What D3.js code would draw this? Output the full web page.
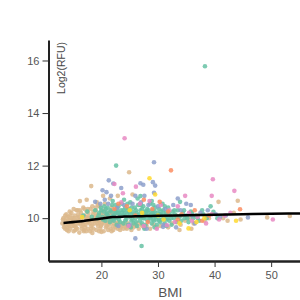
<!DOCTYPE html>
<html><head><meta charset="utf-8">
<script src="https://cdn.jsdelivr.net/npm/d3@7"></script>
<style>body{margin:0;background:#fff;}svg{display:block;font-family:"Liberation Sans",Arial,sans-serif;}</style>
</head><body><div id="chart"></div>
<script>
// ---- data ----
const xTicks = [20, 30, 40, 50];
const yTicks = [10, 12, 14, 16];
const tanPts = [[13.1,9.8],[13.3,10.0],[13.4,9.65],[13.7,9.9],[13.8,10.15],[13.9,9.55],[14.1,9.75],[14.2,10.05],[14.4,9.9],[14.5,9.6],[14.7,10.2],[14.8,9.8],[14.9,10.0],[15.1,9.5],[15.2,9.7],[15.3,10.1],[15.5,9.9],[15.6,10.3],[15.7,9.6],[15.9,9.8],[16.0,10.05],[16.1,9.45],[16.3,9.95],[16.4,10.2],[16.5,9.7],[16.7,9.85],[16.8,10.4],[16.9,9.55],[17.0,10.1],[17.2,9.75],[17.3,9.95],[17.4,10.25],[17.6,9.6],[17.7,9.85],[17.8,10.05],[18.0,9.5],[18.1,10.35],[18.2,9.7],[18.3,9.9],[18.5,10.15],[18.6,9.6],[18.7,10.0],[18.8,9.8],[19.0,10.3],[19.1,9.55],[19.2,9.95],[19.3,10.1],[19.4,9.7],[19.6,9.85],[19.7,10.45],[19.8,9.6],[19.9,10.2],[20.0,9.75],[20.1,9.95],[20.3,10.1],[20.4,9.5],[20.5,9.8],[20.6,10.3],[20.8,9.65],[20.9,9.9],[21.0,10.05],[21.2,9.55],[21.3,9.75],[21.4,10.2],[21.6,9.6],[21.7,9.9],[21.8,10.4],[22.0,9.7],[22.1,9.55],[22.3,10.0],[22.5,9.65],[22.7,9.8],[22.9,9.6],[23.1,9.75],[23.3,9.55],[23.6,9.7],[23.9,9.6],[24.2,9.75],[24.5,9.6],[24.9,9.7],[25.3,9.55],[25.7,9.65],[26.1,9.7],[26.6,9.6],[27.0,9.75],[27.5,9.65],[28.0,9.7],[28.6,9.6],[29.2,9.75],[29.8,9.65],[13.5,9.75],[13.6,10.1],[14.0,9.85],[14.3,9.7],[14.6,9.95],[15.0,9.85],[15.4,9.75],[15.8,10.0],[16.2,9.8],[16.6,10.05],[17.1,9.65],[17.5,10.0],[17.9,9.8],[18.4,9.75],[18.9,10.05],[19.5,9.9],[20.2,9.85],[20.7,10.0],[21.1,9.8],[21.5,10.1],[16.2,10.3],[17.0,10.35],[18.4,10.45],[19.4,10.5],[20.6,10.55],[15.1,10.35],[14.2,9.5],[16.9,9.5],[20.0,9.48],[16.2,10.65],[17.4,10.7],[18.2,11.22],[19.2,10.6],[20.3,10.85],[21.5,10.75],[22.9,10.85],[24.9,11.75],[25.5,10.9],[18.4,9.44],[26.8,10.5],[31,10.0],[32.5,9.8],[33.2,10.1],[34,9.75],[34.8,9.9],[35.5,10.0],[36.3,9.8],[37,10.1],[38.2,9.9],[39,10.0],[40.7,10.62],[41.5,10.0],[42.3,9.9],[43.4,10.2],[44.1,10.66],[44.6,9.95],[49.3,10.03],[53.3,10.08],[31.8,9.65],[33.8,9.55],[35.9,9.6],[30.5,9.7],[13.2,9.95],[13.9,10.0],[14.0,9.65],[14.5,10.1],[14.9,9.7],[15.2,10.0],[15.5,9.65],[15.9,10.15],[16.1,9.9],[16.5,9.6],[16.8,9.75],[17.2,10.05],[17.4,9.85],[17.7,10.2],[18.0,9.95],[18.2,9.6],[18.6,10.25],[18.8,9.9],[19.1,10.15],[19.3,9.8],[19.6,10.05],[19.9,9.7],[20.1,10.25],[20.4,9.9],[20.8,10.15],[21.0,9.7],[21.3,10.0],[21.6,9.85],[21.9,10.2],[22.2,9.8],[22.6,9.7],[23.0,9.85],[23.4,9.65],[23.8,9.8],[24.3,9.65],[24.7,9.8],[25.1,9.7],[25.6,9.75],[26.4,9.8],[27.3,9.7],[14.4,10.25],[15.8,10.3],[17.6,10.35],[19.0,10.4],[13.6,9.6],[15.4,9.55],[17.3,9.5],[19.6,9.5],[21.8,9.5]];
const tealPts = [[16.8,10.1],[17.5,10.25],[18.3,10.05],[18.9,10.3],[19.3,10.0],[19.6,10.2],[19.9,10.4],[20.2,10.05],[20.4,10.25],[20.7,9.9],[20.9,10.15],[21.1,10.4],[21.3,10.0],[21.5,9.85],[21.7,10.25],[21.9,10.5],[22.1,10.1],[22.2,9.9],[22.4,10.3],[22.6,10.0],[22.7,9.75],[22.9,10.2],[23.0,10.45],[23.2,10.05],[23.3,9.85],[23.5,10.3],[23.6,10.55],[23.8,10.1],[23.9,9.8],[24.1,10.2],[24.2,10.4],[24.4,9.95],[24.5,10.15],[24.7,9.75],[24.8,10.35],[25.0,10.05],[25.1,10.6],[25.3,9.9],[25.4,10.25],[25.6,10.1],[25.7,9.8],[25.9,10.4],[26.0,10.0],[26.2,10.2],[26.3,9.7],[26.5,10.5],[26.6,10.05],[26.8,9.9],[26.9,10.3],[27.1,8.94],[27.1,10.15],[27.2,9.8],[27.4,10.45],[27.5,10.0],[27.7,10.25],[27.8,9.75],[28.0,10.1],[28.1,10.35],[28.3,9.9],[28.4,10.2],[28.6,10.55],[28.7,10.0],[28.9,9.8],[29.0,10.3],[29.2,10.1],[29.3,9.9],[29.5,10.4],[29.6,10.05],[29.8,9.75],[29.9,10.2],[30.1,10.0],[30.2,10.35],[30.4,9.85],[30.5,10.15],[30.7,9.95],[30.9,10.3],[31.0,10.05],[31.2,9.8],[31.4,10.2],[31.6,10.0],[31.8,10.4],[32.0,9.9],[32.2,10.1],[32.4,9.75],[32.6,10.25],[32.8,10.0],[33.0,10.15],[33.3,9.85],[33.5,10.3],[33.8,10.05],[34.1,9.9],[34.4,10.2],[34.7,10.0],[35.0,10.1],[35.4,9.85],[35.8,10.25],[36.2,10.0],[36.7,10.1],[37.3,9.9],[38.0,10.15],[38.6,10.0],[39.3,10.45],[40.5,10.0],[21.0,10.2],[21.8,10.05],[22.5,10.2],[23.1,9.95],[23.7,10.2],[24.3,10.05],[24.9,10.25],[25.5,9.95],[26.1,10.3],[26.7,10.15],[27.3,10.0],[27.9,10.25],[28.5,10.05],[29.1,10.2],[29.7,9.95],[30.3,10.15],[20.5,10.45],[22.0,10.65],[24.0,10.7],[26.4,10.75],[28.9,10.65],[30.8,10.55],[25.2,9.65],[27.6,9.6],[29.4,9.65],[31.5,9.7],[38.3,15.78],[22.6,12.0],[26.9,10.84],[33.9,10.62],[39.8,10.24],[19.5,10.1],[20.0,10.3],[20.3,9.95],[20.8,10.35],[21.2,10.1],[21.6,10.3],[22.0,9.95],[22.3,10.15],[22.8,10.35],[23.1,10.2],[23.4,10.1],[23.9,10.3],[24.2,9.9],[24.6,10.3],[25.0,10.2],[25.3,10.4],[25.8,10.15],[26.1,9.85],[26.4,10.1],[26.9,10.05],[27.2,10.35],[27.6,10.15],[28.0,9.95],[28.3,10.3],[28.8,10.15],[29.1,9.95],[29.4,10.25],[29.8,10.1],[30.2,9.9],[30.6,10.25],[31.1,10.15],[31.5,9.95],[31.9,10.2],[32.3,10.0],[32.9,10.3],[33.4,10.05],[34.0,10.1],[34.6,10.3],[35.2,10.0],[36.0,10.2],[37.0,10.0],[37.8,10.3],[24.6,10.55],[27.0,10.5],[29.2,10.5],[22.5,10.5],[31.2,10.45]];
const purplePts = [[29.3,12.13],[21.3,11.44],[22.1,11.32],[23.5,11.15],[20.2,11.06],[20.9,10.99],[21.7,10.85],[18.9,10.62],[26.9,11.33],[27.4,11.27],[29.1,11.37],[29.5,11.24],[29.3,10.97],[26.0,10.85],[27.6,10.85],[33.5,10.75],[35.0,10.55],[35.8,10.5],[26.0,9.23],[30.9,9.67],[45.9,10.03],[22.8,10.4],[24.0,10.5],[25.5,10.55],[27.0,10.6],[28.3,10.5],[30.0,10.45],[31.3,10.35],[32.7,10.5],[34.0,10.3],[36.0,10.1],[37.5,10.2],[38.8,10.3],[40.2,10.15],[41.0,10.05],[42.0,10.1],[25.0,9.75],[28.0,9.6],[31.0,9.75],[33.2,9.65],[36.5,9.8],[23.0,9.7],[19.8,10.55],[20.6,10.7],[21.2,10.55]];
const pinkPts = [[24.1,13.04],[22.3,11.3],[23.8,10.95],[26.1,11.2],[34.8,10.85],[39.7,11.48],[39.5,10.85],[43.5,11.04],[50.3,9.95],[31.6,9.73],[23.5,10.6],[26.8,10.55],[28.5,10.65],[30.5,10.5],[32.0,10.3],[33.5,10.45],[35.5,10.2],[37.0,10.05],[39.5,10.15],[41.8,10.1],[42.8,10.2],[40.8,9.95],[27.5,9.7],[29.8,9.6],[33.0,9.85],[24.8,9.7],[36.0,9.9],[38.5,9.8]];
const orangePts = [[32.3,11.82],[44.5,10.34],[30.3,10.62],[27.5,10.7],[23.0,10.55],[24.5,10.45],[29.0,10.35],[31.8,10.25],[34.2,10.15],[36.5,10.3],[39.0,10.1],[26.0,10.1],[28.2,9.85],[33.5,9.95],[37.8,9.9],[22.3,10.35]];
const yellowPts = [[28.5,11.52],[29.5,10.9],[35.4,9.61],[16.6,10.04],[27.2,10.2],[31.0,9.95],[33.8,9.8],[36.8,9.85],[38.2,10.0],[43.8,9.9],[30.0,10.1],[25.0,10.3]];
const trendBmi = [13.3, 16, 18, 20, 22, 24, 26, 28, 30, 35, 40, 45, 50, 55.1];
const trendVal = [9.82, 9.87, 9.93, 9.99, 10.04, 10.06, 10.07, 10.08, 10.09, 10.11, 10.13, 10.15, 10.17, 10.18];

const groups = [
  {pts: tanPts, color: "#dcb98c"},
  {pts: tealPts, color: "#66c2a5"},
  {pts: purplePts, color: "#8da0cb"},
  {pts: pinkPts, color: "#e78ac3"},
  {pts: orangePts, color: "#fc8d62"},
  {pts: yellowPts, color: "#ffd92f"}
];

// ---- chart ----
const W = 300, H = 300;
const mL = 48.5, mR = 300, mT = 40, mB = 261;
const x = d3.scaleLinear().domain([10.65, 55.1]).range([mL, mR]);
const y = d3.scaleLinear().domain([8.37, 16.78]).range([mB, mT]);

const svg = d3.select("#chart").append("svg").attr("width", W).attr("height", H);

svg.append("defs").append("clipPath").attr("id", "c")
  .append("rect").attr("x", mL).attr("y", mT).attr("width", mR - mL).attr("height", mB - mT);

const plot = svg.append("g").attr("clip-path", "url(#c)");
groups.forEach(g => {
  plot.append("g").selectAll("circle").data(g.pts).join("circle")
    .attr("cx", d => x(d[0])).attr("cy", d => y(d[1])).attr("r", 2.3)
    .attr("fill", g.color).attr("fill-opacity", 0.85);
});

const trend = trendBmi.map((b, i) => [b, trendVal[i]]);
plot.append("path").datum(trend)
  .attr("d", d3.line().x(d => x(d[0])).y(d => y(d[1])).curve(d3.curveMonotoneX))
  .attr("fill", "none").attr("stroke", "#000").attr("stroke-width", 2.5);

// axes
const xAxis = svg.append("g").attr("transform", `translate(0,${mB})`)
  .call(d3.axisBottom(x).tickValues(xTicks).tickSize(6).tickSizeOuter(0));
const yAxis = svg.append("g").attr("transform", `translate(${mL},0)`)
  .call(d3.axisLeft(y).tickValues(yTicks).tickSize(6).tickSizeOuter(0));
[xAxis, yAxis].forEach(a => {
  a.select(".domain").attr("stroke", "#222").attr("stroke-width", 2);
  a.selectAll(".tick line").attr("stroke", "#333").attr("stroke-width", 1);
  a.selectAll(".tick text").attr("fill", "#555").attr("font-size", 11)
    .attr("font-family", "'Liberation Sans',Arial,sans-serif");
});
xAxis.select(".domain").attr("stroke-width", 2.5);
xAxis.selectAll(".tick text").attr("dy", "0.85em");

svg.append("text").attr("x", (mL + mR) / 2 - 4).attr("y", 297)
  .attr("text-anchor", "middle").attr("fill", "#555").attr("font-size", 13.5).text("BMI");
svg.append("text").attr("transform", `translate(65,42) rotate(-90)`)
  .attr("text-anchor", "end").attr("fill", "#444").attr("font-size", 10.5).text("Log2(RFU)");
</script></body></html>
